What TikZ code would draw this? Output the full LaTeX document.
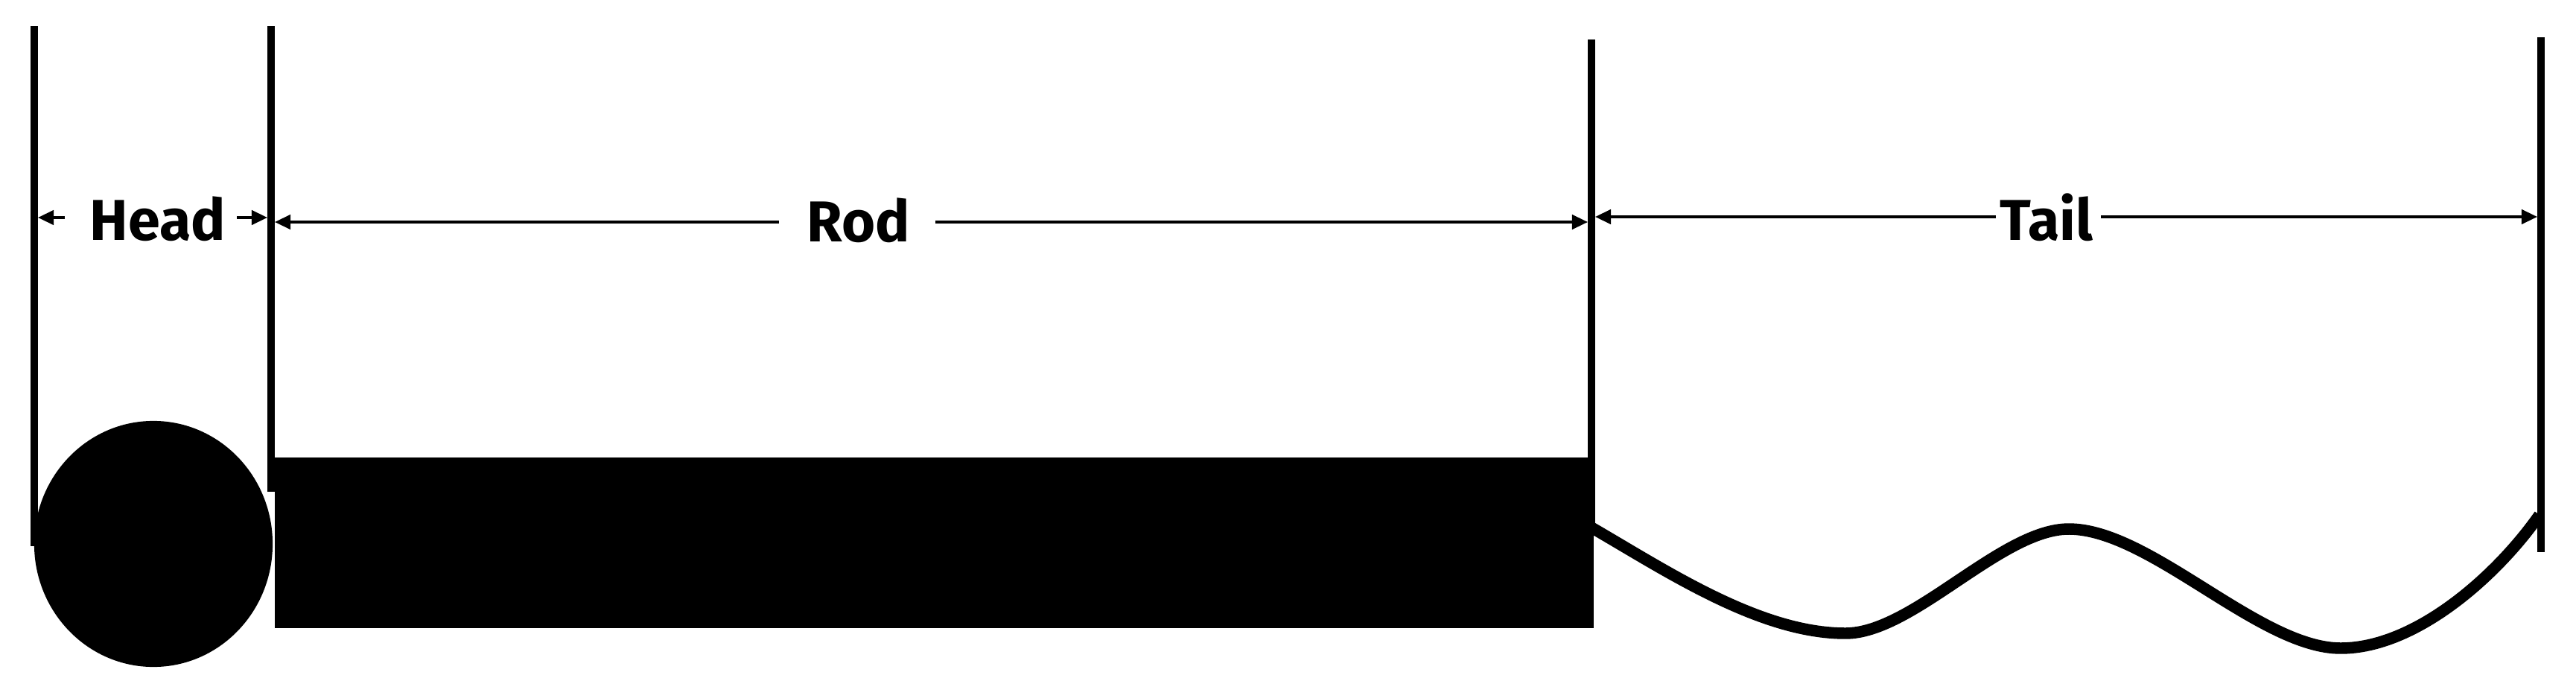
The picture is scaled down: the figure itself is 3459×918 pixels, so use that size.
\documentclass[tikz,border=0pt]{standalone}
\usepackage{fontspec}
\setmainfont{Fira Sans}
\usetikzlibrary{arrows.meta}
\begin{document}
\begin{tikzpicture}[x=0.01cm,y=-0.01cm,
  vline/.style={line width=2.6pt},
  dim/.style={line width=1pt,-{Triangle[length=6pt,width=5.5pt]}},
  lbl/.style={font=\bfseries\fontsize{22}{26}\selectfont, inner sep=0pt},
  wave/.style={line width=4.4pt}]
\useasboundingbox (0,0) rectangle (3459,918);
% vertical boundary lines
\coordinate (l1t) at (46,35);   \coordinate (l1b) at (46,733);
\coordinate (l2t) at (364,35);  \coordinate (l2b) at (364,660);
\coordinate (l3t) at (2137,53); \coordinate (l3b) at (2137,712);
\coordinate (l4t) at (3412,50); \coordinate (l4b) at (3412,741);
\draw[vline] (l1t) -- (l1b);
\draw[vline] (l2t) -- (l2b);
\draw[vline] (l3t) -- (l3b);
\draw[vline] (l4t) -- (l4b);
% head and rod
\fill (206,730) ellipse [x radius=1.6cm, y radius=1.65cm];
\fill (369,614) rectangle (2140,843);
% tail
\coordinate (w0) at (2137,708);
\coordinate (w1) at (2478,850);
\coordinate (w2) at (2778,710);
\coordinate (w3) at (3143,870);
\coordinate (w4) at (3410,691);
\draw[wave] (w0) to[out=-30,in=180,looseness=0.8] (w1)
  to[out=0,in=180,looseness=0.7] (w2)
  to[out=0,in=180,looseness=0.7] (w3)
  to[out=0,in=-125,looseness=0.8] (w4);
% labels
\node[lbl] (head) at (212,294) {Head};
\node[lbl] (rod) at (1153,296) {Rod};
\node[lbl] (tail) at (2748,292) {Tail};
% dimension arrow ends
\coordinate (h1s) at (87,292);   \coordinate (h1e) at (51,292);
\coordinate (h2s) at (318,292);  \coordinate (h2e) at (359,292);
\coordinate (r1s) at (1046,298); \coordinate (r1e) at (369,298);
\coordinate (r2s) at (1256,298); \coordinate (r2e) at (2132,298);
\coordinate (t1s) at (2680,291); \coordinate (t1e) at (2142,291);
\coordinate (t2s) at (2821,291); \coordinate (t2e) at (3407,291);
\draw[dim] (h1s) -- (h1e);
\draw[dim] (h2s) -- (h2e);
\draw[dim] (r1s) -- (r1e);
\draw[dim] (r2s) -- (r2e);
\draw[dim] (t1s) -- (t1e);
\draw[dim] (t2s) -- (t2e);
\end{tikzpicture}
\end{document}
